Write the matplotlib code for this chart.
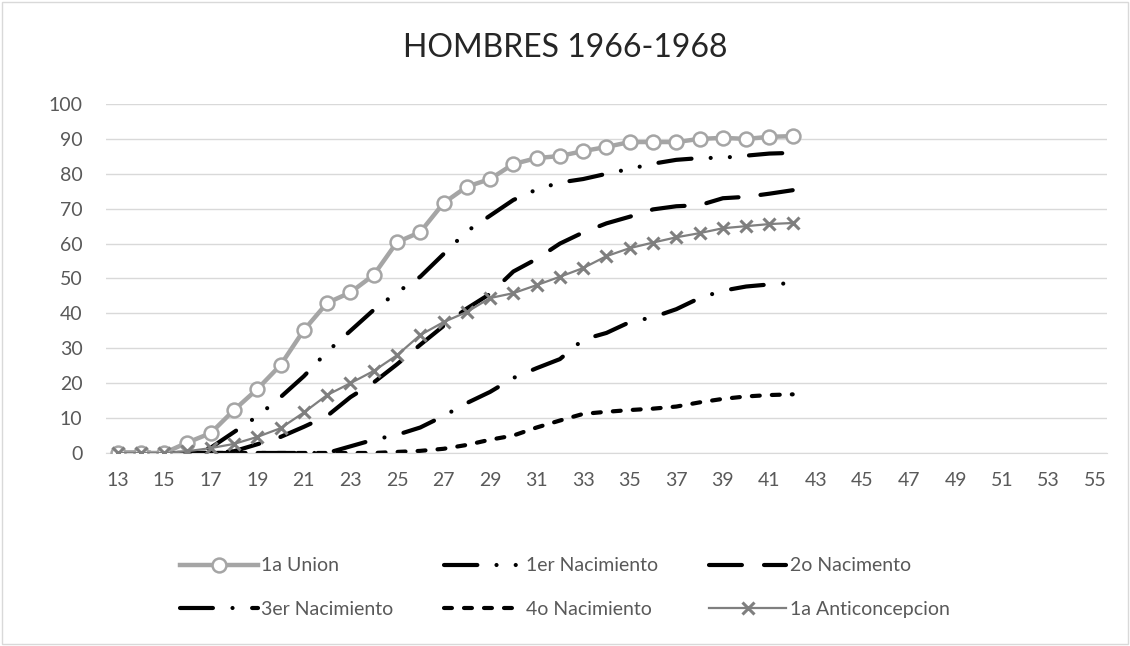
import numpy as np
import matplotlib
matplotlib.use('Agg')
import matplotlib.pyplot as plt
from matplotlib.patches import Rectangle

plt.rcParams['font.family'] = ['Lato', 'DejaVu Sans']

# edades 13 a 42
ages = list(range(13, 43))

union = [0, 0, 0, 3, 5.7, 12.3, 18.3, 25.2, 35.2, 43, 46, 51, 60.4, 63.3, 71.6,
         76.3, 78.5, 82.8, 84.5, 85.1, 86.5, 87.7, 89.1, 89.1, 89.1, 90, 90.3, 90,
         90.6, 90.8]
first_birth = [0, 0, 0, 0, 1.5, 6, 10.5, 16, 22, 29, 35, 41, 46, 50.5, 57, 63.5,
               68, 72.5, 75.5, 77.5, 78.5, 80, 81.4, 82.9, 84, 84.5, 84.6, 85.2,
               85.8, 86]
second_birth = [0, 0, 0, 0, 0, 0.5, 2.5, 4.6, 7.5, 10.6, 16, 20.2, 25.4, 31, 36.4,
                41.4, 45.6, 52, 55.6, 60, 63.2, 65.8, 67.7, 69.8, 70.7, 71, 73,
                73.4, 74.3, 75.3]
third_birth = [0, 0, 0, 0, 0, 0, 0, 0, 0, 0, 1.9, 3.8, 5.2, 7.3, 10.6, 14.3, 17.5,
               21.5, 24.3, 26.9, 32.5, 34.4, 37.5, 38.9, 41.2, 44.4, 46.5, 47.7,
               48.3, 48.7]
fourth_birth = [0, 0, 0, 0, 0, 0, 0, 0, 0, 0, 0, 0, 0.3, 0.6, 1.2, 2.3, 3.8, 5,
                7.3, 9.3, 11.2, 11.8, 12.3, 12.7, 13.3, 14.5, 15.5, 16.2, 16.6, 16.8]
contracep = [0, 0, 0, 0.5, 1.4, 2.6, 4.6, 7.1, 11.6, 16.6, 20, 23.5, 28, 33.8, 37.5,
             40.4, 44.4, 45.8, 48.1, 50.5, 53, 56.4, 58.7, 60.3, 61.8, 63, 64.4, 65,
             65.6, 65.9]

xticks = list(range(13, 56, 2))
yticks = list(range(0, 101, 10))

txt = '#595959'

fig = plt.figure(figsize=(11.3, 6.46), dpi=100)
ax = fig.add_axes([0.0938, 0.2988, 0.8858, 0.5402])

l1, = ax.plot(ages, union, color='#A5A5A5', lw=3.2, marker='o', ms=10,
              mfc='white', mec='#A5A5A5', mew=1.8, label='1a Union', zorder=3)
l2, = ax.plot(ages, first_birth, color='black', lw=3, dashes=(8, 4.6, 0.01, 4.6, 0.01, 4.6),
              dash_capstyle='round', label='1er Nacimiento', zorder=2)
l3, = ax.plot(ages, second_birth, color='black', lw=3, dashes=(7.9, 5.3),
              dash_capstyle='round', label='2o Nacimento', zorder=2)
l4, = ax.plot(ages, third_birth, color='black', lw=3, dashes=(7.9, 4.7, 0.01, 4.7),
              dash_capstyle='round', label='3er Nacimiento', zorder=2)
l5, = ax.plot(ages, fourth_birth, color='black', lw=3, dashes=(1.9, 2.9),
              dash_capstyle='round', label='4o Nacimiento', zorder=2)
l6, = ax.plot(ages, contracep, color='#7F7F7F', lw=1.6, marker='x', ms=9,
              mew=2.2, label='1a Anticoncepcion', zorder=4)

ax.set_xlim(12.5, 55.5)
ax.set_ylim(0, 100)
ax.set_xticks(xticks)
ax.set_yticks(yticks)
ax.grid(axis='y', color='#D9D9D9', lw=1)
ax.set_axisbelow(True)
for s in ['top', 'right', 'left']:
    ax.spines[s].set_visible(False)
ax.spines['bottom'].set_color('#D9D9D9')
ax.tick_params(length=0, labelsize=14, labelcolor=txt)
ax.tick_params(axis='x', pad=14)
ax.tick_params(axis='y', pad=17)

fig.text(0.5, 0.925, 'HOMBRES 1966-1968', ha='center', va='center',
         fontsize=23, color='#262626')

# orden por filas como en Excel
handles = [l1, l4, l2, l5, l3, l6]
fig.legend(handles=handles, labels=[h.get_label() for h in handles], ncol=3,
           loc='center', bbox_to_anchor=(0.5, 0.0906), frameon=False,
           fontsize=14, labelcolor=txt, handlelength=4.0, handletextpad=0.2,
           columnspacing=2.6, labelspacing=1.35)

fig.patches.append(Rectangle((0.002, 0.003), 0.996, 0.994, transform=fig.transFigure,
                             fill=False, edgecolor='#D9D9D9', lw=1))

fig.savefig('out.png', dpi=100)
